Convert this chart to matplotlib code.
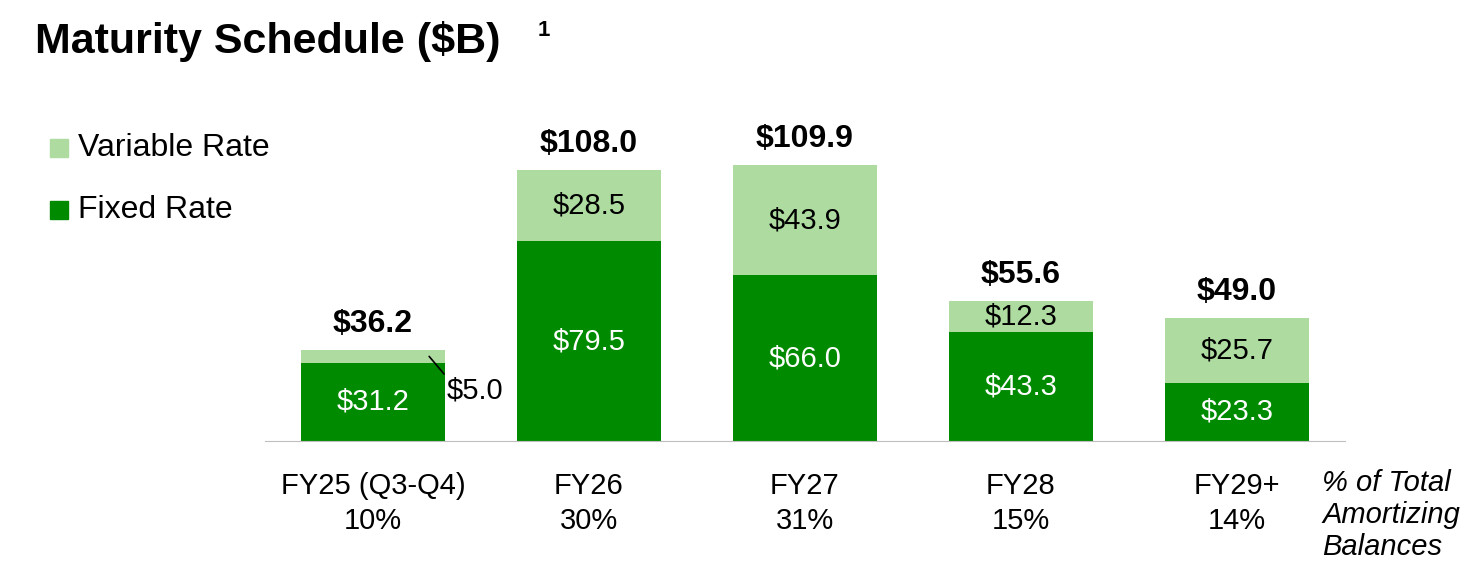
import matplotlib
matplotlib.use("Agg")
import matplotlib.pyplot as plt
from matplotlib.patches import Rectangle

categories = ["FY25 (Q3-Q4)", "FY26", "FY27", "FY28", "FY29+"]
pct_total = ["10%", "30%", "31%", "15%", "14%"]
fixed = [31.2, 79.5, 66.0, 43.3, 23.3]
variable = [5.0, 28.5, 43.9, 12.3, 25.7]
totals = [36.2, 108.0, 109.9, 55.6, 49.0]

DARK = "#008A00"
LIGHT = "#ADDBA0"
plt.rcParams["font.family"] = "Liberation Sans"

fig = plt.figure(figsize=(14.7, 5.72), dpi=100)
ax = fig.add_axes([265/1470, 131/572, 1080/1470, 341/572])
x = range(len(categories))
ax.bar(x, fixed, width=0.667, color=DARK)
ax.bar(x, variable, width=0.667, bottom=fixed, color=LIGHT)
ax.set_xlim(-0.5, 4.5)
ax.set_ylim(0, 341/2.51)
for s in ["top", "right", "left"]:
    ax.spines[s].set_visible(False)
ax.spines["bottom"].set_color("#BFBFBF")
ax.set_yticks([])
ax.set_xticks(list(x))
ax.set_xticklabels([f"{c}\n{p}" for c, p in zip(categories, pct_total)], fontsize=21, linespacing=1.35)
ax.tick_params(axis="x", length=0, pad=22)

for i in x:
    ax.text(i, fixed[i]/2, f"${fixed[i]:.1f}", ha="center", va="center", color="white", fontsize=21)
    if variable[i] > 8:
        ax.text(i, fixed[i] + variable[i]/2, f"${variable[i]:.1f}", ha="center", va="center", fontsize=21)
    ax.text(i, totals[i] + 4.5, f"${totals[i]:.1f}", ha="center", va="bottom", fontsize=23, fontweight="bold")
# small FY25 variable segment labelled outside
ax.annotate(f"${variable[0]:.1f}", xy=(0.26, fixed[0] + variable[0]/2), xytext=(0.34, 20),
            fontsize=21, ha="left", va="center",
            arrowprops=dict(arrowstyle="-", color="black", lw=1.2, shrinkA=0, shrinkB=0,
                            relpos=(0.0, 1.0)))

fig.text(35/1470, 1 - 42/572, "Maturity Schedule ($B)", fontsize=31, fontweight="bold", va="center")
fig.text(538/1470, 1 - 30/572, "1", fontsize=16, fontweight="bold", va="center")

for ty, lab, col in [(148, "Variable Rate", LIGHT), (210, "Fixed Rate", DARK)]:
    fig.patches.append(Rectangle((50/1470, 1 - (ty + 9)/572), 18/1470, 18/572,
                                 transform=fig.transFigure, color=col))
    fig.text(78/1470, 1 - ty/572, lab, fontsize=23, va="center")

fig.text(1322/1470, 1 - 515/572, "% of Total\nAmortizing\nBalances", fontsize=21,
         style="italic", va="center", linespacing=1.2)

fig.savefig("out.png")
